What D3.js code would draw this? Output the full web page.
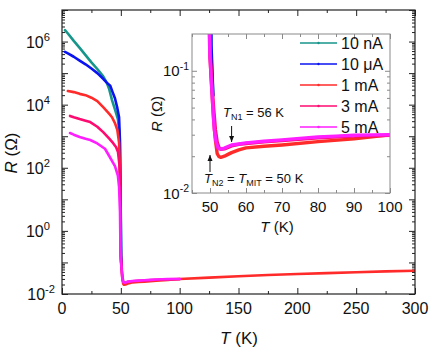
<!DOCTYPE html>
<html><head><meta charset="utf-8">
<script src="https://cdn.jsdelivr.net/npm/d3@7"></script>
<style>body{margin:0;background:#fff}svg{display:block;font-family:"Liberation Sans",Arial,sans-serif}</style>
</head><body>
<script>
// ---- data ----
const seriesNames = ["10 nA", "10 \u03bcA", "1 mA", "3 mA", "5 mA"];
const seriesColors = ["#16968a", "#0a14f0", "#ff2a2a", "#ff0a70", "#ff1eff"];

const T_10nA = [2.5, 5, 10, 15, 20, 25, 30, 35, 38, 40, 42.5, 45, 47.5, 49, 49.7, 50.2, 50.8];
const R_10nA = [2.3e6, 1.8e6, 1.05e6, 6.3e5, 3.7e5, 2.2e5, 1.35e5, 7.9e4, 5.0e4, 3.2e4, 1.4e4, 7.1e3, 3.5e3, 1.0e3, 30, 0.16, 0.063];

const T_10uA = [2.5, 5, 10, 15, 20, 25, 30, 35, 38, 41, 43, 45, 47, 48.5, 49.3, 49.8, 50.3, 50.8];
const R_10uA = [4.7e5, 4.2e5, 3.3e5, 2.5e5, 1.9e5, 1.4e5, 1.0e5, 6.6e4, 5.0e4, 4.0e4, 2.5e4, 1.6e4, 7.9e3, 4.0e3, 630, 10, 0.16, 0.063];

const T_1mA = [5, 10, 15, 20, 25, 30, 35, 40, 42.5, 45, 47, 48.5, 49.3, 49.7, 50, 50.5, 51, 51.5, 52, 52.5, 53, 54, 55, 56, 58, 60, 65, 70, 80, 90, 100, 125, 150, 175, 200, 225, 250, 275, 300];
const R_1mA = [2.7e4, 2.5e4, 2.2e4, 2.0e4, 1.66e4, 1.3e4, 8.3e3, 5.2e3, 4.0e3, 2.6e3, 1.6e3, 630, 63, 1.0, 0.13, 0.07, 0.04, 0.027, 0.021, 0.0198, 0.0196, 0.0200, 0.0207, 0.0214, 0.0225, 0.0234, 0.0241, 0.0247, 0.0263, 0.0277, 0.0299, 0.033, 0.0365, 0.040, 0.043, 0.046, 0.049, 0.052, 0.0545];

const T_3mA = [6.8, 10, 15, 20, 24, 30, 35, 40, 43.5, 46, 47.6, 48.8, 49.5, 49.8, 50.1, 50.5, 51, 51.5, 52, 52.5, 53, 54, 55, 56, 58, 60, 65, 70, 80, 90, 100];
const R_3mA = [4.4e3, 4.0e3, 3.5e3, 3.1e3, 2.8e3, 2.0e3, 1.35e3, 850, 600, 450, 316, 126, 16, 0.5, 0.13, 0.08, 0.05, 0.033, 0.026, 0.0235, 0.0228, 0.023, 0.0236, 0.0243, 0.025, 0.0254, 0.0262, 0.0268, 0.0283, 0.0293, 0.0296];

const T_5mA = [6.8, 10, 15, 20, 24, 30, 36.5, 40, 45, 47.5, 48.5, 49.3, 49.7, 50, 50.4, 50.8, 51.2, 51.7, 52.3, 53, 54, 55, 56, 58, 60, 65, 70, 75, 80, 85, 90, 95, 100];
const R_5mA = [1.26e3, 1.12e3, 950, 830, 760, 590, 400, 240, 112, 56, 25, 4, 0.25, 0.13, 0.08, 0.05, 0.033, 0.026, 0.0232, 0.0229, 0.0233, 0.024, 0.0247, 0.0252, 0.0257, 0.0265, 0.0272, 0.028, 0.0287, 0.0292, 0.0297, 0.0299, 0.030];

const seriesT = [T_10nA, T_10uA, T_1mA, T_3mA, T_5mA];
const seriesR = [R_10nA, R_10uA, R_1mA, R_3mA, R_5mA];

const mainXTicks = [0, 50, 100, 150, 200, 250, 300];
const mainXMinor = [25, 75, 125, 175, 225, 275];
const mainYLabelExps = [-2, 0, 2, 4, 6];
const insetXTicks = [50, 60, 70, 80, 90, 100];
const insetXMinor = [45, 55, 65, 75, 85, 95];
const insetYLabelExps = [-2, -1];

// ---- setup ----
const svg = d3.select("body").append("svg").attr("width", 436).attr("height", 354);
const M = {l: 62, r: 415, t: 10, b: 294};
const x = d3.scaleLinear().domain([0, 300]).range([M.l, M.r]);
const y = d3.scaleLog().domain([1e-2, 1e7]).range([M.b, M.t]);

function logMinors(e0, e1, lo, hi) {
  const out = [];
  for (let e = e0; e <= e1; e++) for (let m = 2; m <= 9; m++) {
    const v = m * Math.pow(10, e);
    if (v > lo * 1.0001 && v < hi * 0.9999) out.push(v);
  }
  return out;
}
function tickAxis(g, axisFn, scale, vals, size, color) {
  g.call(axisFn(scale).tickValues(vals).tickSizeInner(-size).tickSizeOuter(0).tickFormat(""));
  g.select(".domain").remove();
  g.selectAll("line").attr("stroke", color).attr("stroke-width", 1);
}
function supLabel(g, xp, yp, exp, fs, anchor) {
  const t = g.append("text").attr("x", xp).attr("y", yp).attr("text-anchor", anchor || "end")
    .attr("font-size", fs).attr("fill", "#111");
  t.append("tspan").text("10");
  t.append("tspan").attr("dy", -fs * 0.42).attr("font-size", fs * 0.7).text(exp < 0 ? "-" + (-exp) : String(exp));
}

// ---- main axes ticks ----
const mainYMajor = d3.range(-2, 8).map(e => Math.pow(10, e));
const mainYMinor = logMinors(-2, 6, 1e-2, 1e7);
const axCol = "#222";
tickAxis(svg.append("g").attr("transform", `translate(0,${M.b})`), d3.axisBottom, x, mainXTicks, 6, axCol);
tickAxis(svg.append("g").attr("transform", `translate(0,${M.b})`), d3.axisBottom, x, mainXMinor, 3, axCol);
tickAxis(svg.append("g").attr("transform", `translate(0,${M.t})`), d3.axisTop, x, mainXTicks, 6, axCol);
tickAxis(svg.append("g").attr("transform", `translate(0,${M.t})`), d3.axisTop, x, mainXMinor, 3, axCol);
tickAxis(svg.append("g").attr("transform", `translate(${M.l},0)`), d3.axisLeft, y, mainYMajor, 6, axCol);
tickAxis(svg.append("g").attr("transform", `translate(${M.l},0)`), d3.axisLeft, y, mainYMinor, 3, axCol);
tickAxis(svg.append("g").attr("transform", `translate(${M.r},0)`), d3.axisRight, y, mainYMajor, 6, axCol);
tickAxis(svg.append("g").attr("transform", `translate(${M.r},0)`), d3.axisRight, y, mainYMinor, 3, axCol);

// main labels
mainXTicks.forEach(v => svg.append("text").attr("x", x(v)).attr("y", 314).attr("text-anchor", "middle")
  .attr("font-size", 16).attr("fill", "#111").text(v));
mainYLabelExps.forEach(e => supLabel(svg, e === -2 ? 55 : 50, y(Math.pow(10, e)) + 6, e, 16));

const xt = svg.append("text").attr("x", 239).attr("y", 344).attr("text-anchor", "middle").attr("font-size", 17).attr("fill", "#111");
xt.append("tspan").attr("font-style", "italic").text("T");
xt.append("tspan").text(" (K)");
const yt = svg.append("text").attr("transform", "translate(17,153) rotate(-90)").attr("text-anchor", "middle").attr("font-size", 17).attr("fill", "#111");
yt.append("tspan").attr("font-style", "italic").text("R");
yt.append("tspan").text(" (\u03a9)");

// main curves
svg.append("clipPath").attr("id", "mclip").append("rect").attr("x", M.l).attr("y", M.t).attr("width", M.r - M.l).attr("height", M.b - M.t);
const mline = d3.line().x(d => x(d[0])).y(d => y(d[1]));
const mg = svg.append("g").attr("clip-path", "url(#mclip)");
seriesT.forEach((T, i) => {
  mg.append("path").datum(T.map((t, j) => [t, seriesR[i][j]]))
    .attr("d", mline).attr("fill", "none").attr("stroke", seriesColors[i])
    .attr("stroke-width", 2.6).attr("stroke-linejoin", "round").attr("stroke-linecap", "round");
});

svg.append("rect").attr("x", M.l).attr("y", M.t).attr("width", M.r - M.l).attr("height", M.b - M.t)
  .attr("fill", "none").attr("stroke", axCol).attr("stroke-width", 1.2);

// ---- inset ----
const I = {l: 192, r: 390, t: 34, b: 193};
const ix = d3.scaleLinear().domain([45, 100]).range([I.l, I.r]);
const iy = d3.scaleLog().domain([0.01, 0.2]).range([I.b, I.t]);
const inCol = "#8a8a8a";
svg.append("rect").attr("x", I.l).attr("y", I.t).attr("width", I.r - I.l).attr("height", I.b - I.t).attr("fill", "#fff");

const iyMajor = [0.01, 0.1];
const iyMinor = logMinors(-2, -1, 0.01, 0.2);
tickAxis(svg.append("g").attr("transform", `translate(0,${I.b})`), d3.axisBottom, ix, insetXTicks, 5, inCol);
tickAxis(svg.append("g").attr("transform", `translate(0,${I.b})`), d3.axisBottom, ix, insetXMinor, 3, inCol);
tickAxis(svg.append("g").attr("transform", `translate(0,${I.t})`), d3.axisTop, ix, insetXTicks, 5, inCol);
tickAxis(svg.append("g").attr("transform", `translate(0,${I.t})`), d3.axisTop, ix, insetXMinor, 3, inCol);
tickAxis(svg.append("g").attr("transform", `translate(${I.l},0)`), d3.axisLeft, iy, iyMajor, 5, inCol);
tickAxis(svg.append("g").attr("transform", `translate(${I.l},0)`), d3.axisLeft, iy, iyMinor, 3, inCol);
tickAxis(svg.append("g").attr("transform", `translate(${I.r},0)`), d3.axisRight, iy, iyMajor, 5, inCol);
tickAxis(svg.append("g").attr("transform", `translate(${I.r},0)`), d3.axisRight, iy, iyMinor, 3, inCol);

insetXTicks.forEach(v => svg.append("text").attr("x", ix(v)).attr("y", 212).attr("text-anchor", "middle")
  .attr("font-size", 15).attr("fill", "#111").text(v));
insetYLabelExps.forEach(e => supLabel(svg, 189, iy(Math.pow(10, e)) + 5.5, e, 15));

const ixt = svg.append("text").attr("x", 277).attr("y", 232).attr("text-anchor", "middle").attr("font-size", 15).attr("fill", "#111");
ixt.append("tspan").attr("font-style", "italic").text("T");
ixt.append("tspan").text(" (K)");
const iyt = svg.append("text").attr("transform", "translate(162,114) rotate(-90)").attr("text-anchor", "middle").attr("font-size", 15).attr("fill", "#111");
iyt.append("tspan").attr("font-style", "italic").text("R");
iyt.append("tspan").text(" (\u03a9)");

svg.append("clipPath").attr("id", "iclip").append("rect").attr("x", I.l).attr("y", I.t).attr("width", I.r - I.l).attr("height", I.b - I.t);
const iline = d3.line().x(d => ix(d[0])).y(d => iy(d[1]));
const ig = svg.append("g").attr("clip-path", "url(#iclip)");
seriesT.forEach((T, i) => {
  const pts = T.map((t, j) => [t, seriesR[i][j]]).filter(d => d[0] >= 44 && d[0] <= 101);
  ig.append("path").datum(pts).attr("d", iline).attr("fill", "none").attr("stroke", seriesColors[i])
    .attr("stroke-width", 3.4).attr("stroke-linejoin", "round").attr("stroke-linecap", "round");
});
svg.append("rect").attr("x", I.l).attr("y", I.t).attr("width", I.r - I.l).attr("height", I.b - I.t)
  .attr("fill", "none").attr("stroke", inCol).attr("stroke-width", 1);

// legend
const legY0 = 43, legDy = 21;
seriesNames.forEach((n, i) => {
  const yy = legY0 + i * legDy;
  svg.append("line").attr("x1", 300).attr("x2", 337).attr("y1", yy).attr("y2", yy)
    .attr("stroke", seriesColors[i]).attr("stroke-width", 1.6);
  svg.append("circle").attr("cx", 318.5).attr("cy", yy).attr("r", 1.2).attr("fill", seriesColors[i]);
  svg.append("text").attr("x", 341).attr("y", yy + 5.5).attr("font-size", 16).attr("fill", "#111").text(n);
});

// annotations
const ann1 = svg.append("text").attr("x", 223).attr("y", 117).attr("font-size", 13).attr("fill", "#111");
ann1.append("tspan").attr("font-style", "italic").text("T");
ann1.append("tspan").attr("font-size", 9).attr("dy", 3).text("N1");
ann1.append("tspan").attr("dy", -3).text(" = 56 K");
const ann2 = svg.append("text").attr("x", 204).attr("y", 183).attr("font-size", 13).attr("fill", "#111");
ann2.append("tspan").attr("font-style", "italic").text("T");
ann2.append("tspan").attr("font-size", 9).attr("dy", 3).text("N2");
ann2.append("tspan").attr("dy", -3).text(" = ");
ann2.append("tspan").attr("font-style", "italic").text("T");
ann2.append("tspan").attr("font-size", 9).attr("dy", 3).text("MIT");
ann2.append("tspan").attr("dy", -3).text(" = 50 K");

function arrow(xp, y1, y2) {
  svg.append("line").attr("x1", xp).attr("x2", xp).attr("y1", y1).attr("y2", y2).attr("stroke", "#111").attr("stroke-width", 1);
  const s = y2 > y1 ? 1 : -1;
  svg.append("path").attr("d", `M${xp - 2.5},${y2 - s * 6}L${xp},${y2}L${xp + 2.5},${y2 - s * 6}Z`).attr("fill", "#111");
}
arrow(ix(56), 126, 142);
arrow(ix(50), 172, 155);
</script>
</body></html>
